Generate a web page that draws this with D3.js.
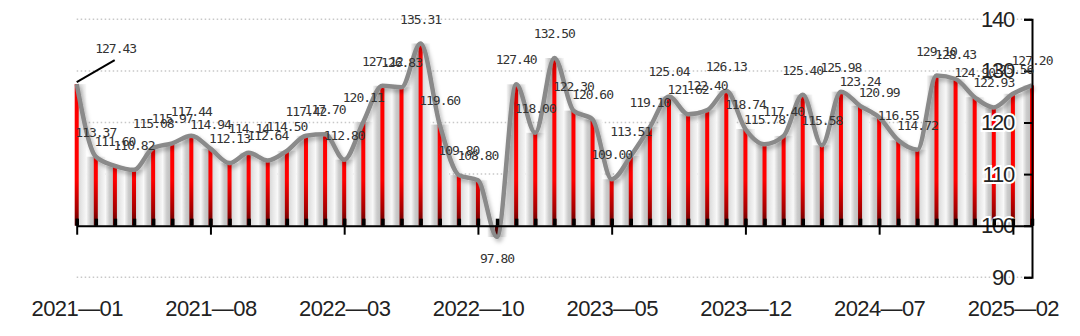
<!DOCTYPE html>
<html>
<head>
<meta charset="utf-8">
<script src="https://cdn.jsdelivr.net/npm/d3@7/dist/d3.min.js"></script>
<style>
  body { margin: 0; background: #fff; }
  svg { display: block; }
</style>
</head>
<body>
<div id="chart"></div>
<script>
// monthly index values, 2021-01 .. 2025-03
const months = d3.timeMonth.range(new Date(2021, 0, 1), new Date(2025, 3, 1)).map(d3.timeFormat("%Y-%m"));
const values = [
  127.43, 113.37, 111.60, 110.82, 115.08, 115.97, 117.44, 114.94, 112.13, 114.14,
  112.64, 114.50, 117.42, 117.70, 112.80, 120.11, 127.12, 126.83, 135.31, 119.60,
  109.80, 108.80, 97.80, 127.40, 118.00, 132.50, 122.30, 120.60, 109.00, 113.51,
  119.10, 125.04, 121.62, 122.40, 126.13, 118.74, 115.78, 117.40, 125.40, 115.58,
  125.98, 123.24, 120.99, 116.55, 114.72, 129.10, 128.43, 124.90, 122.93, 125.56,
  127.20
];
const tickMonths = ["2021-01", "2021-08", "2022-03", "2022-10", "2023-05", "2023-12", "2024-07", "2025-02"];
const yTicks = [90, 100, 110, 120, 130, 140];
const baseValue = 100;

const width = 1080, height = 336;

const svg = d3.select("#chart").append("svg")
  .attr("width", width)
  .attr("height", height);

const x = d3.scaleLinear().domain([0, months.length - 1]).range([76.7, 1032]);
const y = d3.scaleLinear().domain([90, 140]).range([277.3, 19.3]);
const step = x(1) - x(0);

const defs = svg.append("defs");

const barGrad = defs.append("linearGradient")
  .attr("id", "barGrad")
  .attr("gradientUnits", "userSpaceOnUse")
  .attr("x1", 0).attr("x2", 0)
  .attr("y1", y(140)).attr("y2", y(baseValue));
barGrad.selectAll("stop")
  .data([[0, "#ff0000"], [0.78, "#ff0000"], [0.93, "#a00000"], [1, "#5a0000"]])
  .join("stop")
  .attr("offset", d => d[0])
  .attr("stop-color", d => d[1]);

const backGrad = defs.append("linearGradient")
  .attr("id", "backGrad")
  .attr("x1", 0).attr("x2", 1).attr("y1", 0).attr("y2", 0);
backGrad.selectAll("stop")
  .data([[0, "#f8f8f8"], [0.22, "#cbcbcb"], [0.42, "#bfbfbf"], [0.58, "#d6d6d6"], [0.78, "#e8e8e8"], [1, "#f8f8f8"]])
  .join("stop")
  .attr("offset", d => d[0])
  .attr("stop-color", d => d[1]);

const shadow = defs.append("filter")
  .attr("id", "shadow")
  .attr("x", "-10%").attr("y", "-20%")
  .attr("width", "120%").attr("height", "140%");
shadow.append("feDropShadow")
  .attr("dx", 2).attr("dy", 3)
  .attr("stdDeviation", 2)
  .attr("flood-color", "#000")
  .attr("flood-opacity", 0.28);

defs.append("filter").attr("id", "soft")
  .append("feGaussianBlur").attr("stdDeviation", 0.7);

defs.append("clipPath").attr("id", "plotClip")
  .append("rect")
  .attr("x", x(0)).attr("y", 0)
  .attr("width", x(months.length - 1) - x(0))
  .attr("height", height);

// dotted grid
svg.append("g")
  .selectAll("line")
  .data(yTicks.filter(v => v !== baseValue))
  .join("line")
  .attr("x1", x(0)).attr("x2", 1032)
  .attr("y1", d => y(d)).attr("y2", d => y(d))
  .attr("stroke", "#c8c8c8")
  .attr("stroke-width", 1.5)
  .attr("stroke-dasharray", "1.5,2.5");

// shaded column behind each bar
svg.append("g")
  .attr("clip-path", "url(#plotClip)")
  .attr("filter", "url(#soft)")
  .selectAll("rect")
  .data(values)
  .join("rect")
  .attr("x", (d, i) => x(i) - step / 2)
  .attr("width", step)
  .attr("y", d => Math.min(y(d), y(baseValue)))
  .attr("height", d => Math.abs(y(d) - y(baseValue)))
  .attr("fill", "url(#backGrad)");

// red bars
svg.append("g")
  .selectAll("rect")
  .data(values)
  .join("rect")
  .attr("x", (d, i) => x(i) - 2)
  .attr("width", 4)
  .attr("y", d => Math.min(y(d), y(baseValue)))
  .attr("height", d => Math.abs(y(d) - y(baseValue)))
  .attr("fill", "url(#barGrad)");

// smooth grey line
const line = d3.line()
  .x((d, i) => x(i))
  .y(d => y(d))
  .curve(d3.curveMonotoneX);

svg.append("path")
  .datum(values)
  .attr("d", line)
  .attr("fill", "none")
  .attr("stroke", "#8a8a8a")
  .attr("stroke-width", 4.5)
  .attr("stroke-linejoin", "round")
  .attr("filter", "url(#shadow)");

// right axis
const yAxis = svg.append("g")
  .attr("transform", "translate(1032,0)")
  .call(d3.axisLeft(y).tickValues(yTicks).tickSize(8).tickPadding(10));
yAxis.select(".domain").attr("stroke", "#000").attr("stroke-width", 2);
yAxis.selectAll(".tick line").attr("stroke", "#000").attr("stroke-width", 2);
yAxis.selectAll(".tick text")
  .attr("fill", "#222")
  .style("font-family", "'Liberation Sans', Arial, sans-serif")
  .style("font-size", "22px")
  .style("letter-spacing", "-1.2px")
  .attr("stroke", "#fff")
  .attr("stroke-width", 4)
  .attr("paint-order", "stroke");

// bottom axis at 100
const baseY = y(baseValue);
const minor = svg.append("g")
  .attr("transform", `translate(0,${baseY})`)
  .call(d3.axisBottom(x).tickValues(d3.range(months.length)).tickSize(-7).tickFormat(""));
minor.select(".domain").remove();
minor.selectAll(".tick line").attr("stroke", "#000").attr("stroke-width", 3.5);

const xAxis = svg.append("g")
  .attr("transform", `translate(0,${baseY})`)
  .call(d3.axisBottom(x)
    .tickValues(tickMonths.map(m => months.indexOf(m)))
    .tickFormat(i => months[i].replace("-", "\u2014"))
    .tickSize(9)
    .tickSizeOuter(0));
xAxis.select(".domain").attr("stroke", "#000").attr("stroke-width", 2);
xAxis.selectAll(".tick line").attr("y1", -7).attr("stroke", "#000").attr("stroke-width", 2);
xAxis.selectAll(".tick text")
  .attr("y", 90).attr("dy", 0)
  .attr("fill", "#222")
  .style("font-family", "'Liberation Sans', Arial, sans-serif")
  .style("font-size", "22px")
  .style("letter-spacing", "-0.6px");

// value labels
const labelPos = (d, i) => {
  if (i === 0) return [x(i) + 39, y(d) - 31];
  if (d < baseValue) return [x(i), y(d) + 26];
  return [x(i), y(d) - 20];
};

svg.append("line")
  .attr("x1", x(0)).attr("y1", y(values[0]) - 2)
  .attr("x2", x(0) + 38).attr("y2", y(values[0]) - 24)
  .attr("stroke", "#000")
  .attr("stroke-width", 2);

svg.append("g")
  .selectAll("text")
  .data(values)
  .join("text")
  .attr("x", (d, i) => labelPos(d, i)[0])
  .attr("y", (d, i) => labelPos(d, i)[1])
  .attr("text-anchor", "middle")
  .attr("fill", "#333")
  .style("font-family", "'DejaVu Sans Mono', monospace")
  .style("font-size", "13px")
  .style("letter-spacing", "-1px")
  .text(d => d.toFixed(2));
</script>
</body>
</html>
